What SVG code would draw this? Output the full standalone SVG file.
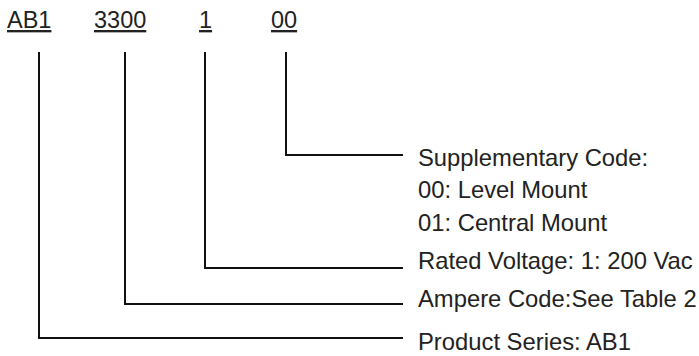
<svg xmlns="http://www.w3.org/2000/svg" width="699" height="356" viewBox="0 0 699 356">
<style>
text{font-family:"Liberation Sans",Arial,sans-serif;font-size:23.8px;fill:#222}
.code{text-decoration:underline;font-size:23.5px}
.conn{fill:none;stroke:#111;stroke-width:2}
</style>
<rect width="699" height="356" fill="#fff"/>
<g id="code-ab1"><text class="code" x="7" y="28">AB1</text></g>
<g id="code-3300"><text class="code" x="94" y="28">3300</text></g>
<g id="code-1"><text class="code" x="199" y="28">1</text></g>
<g id="code-00"><text class="code" x="271" y="28">00</text></g>
<g id="label-supp">
<text x="418" y="166">Supplementary Code:</text>
<text x="418" y="198">00: Level Mount</text>
<text x="418" y="231">01: Central Mount</text>
</g>
<g id="label-voltage"><text x="418" y="269">Rated Voltage: 1: 200 Vac</text></g>
<g id="label-ampere"><text x="418" y="307">Ampere Code:See Table 2</text></g>
<g id="label-series"><text x="418" y="350">Product Series: AB1</text></g>
<g id="connectors">
<path class="conn" d="M286 52V155H403"/>
<path class="conn" d="M205 52V268H403"/>
<path class="conn" d="M125 52V304H403"/>
<path class="conn" d="M39 52V338H403"/>
</g>
</svg>
